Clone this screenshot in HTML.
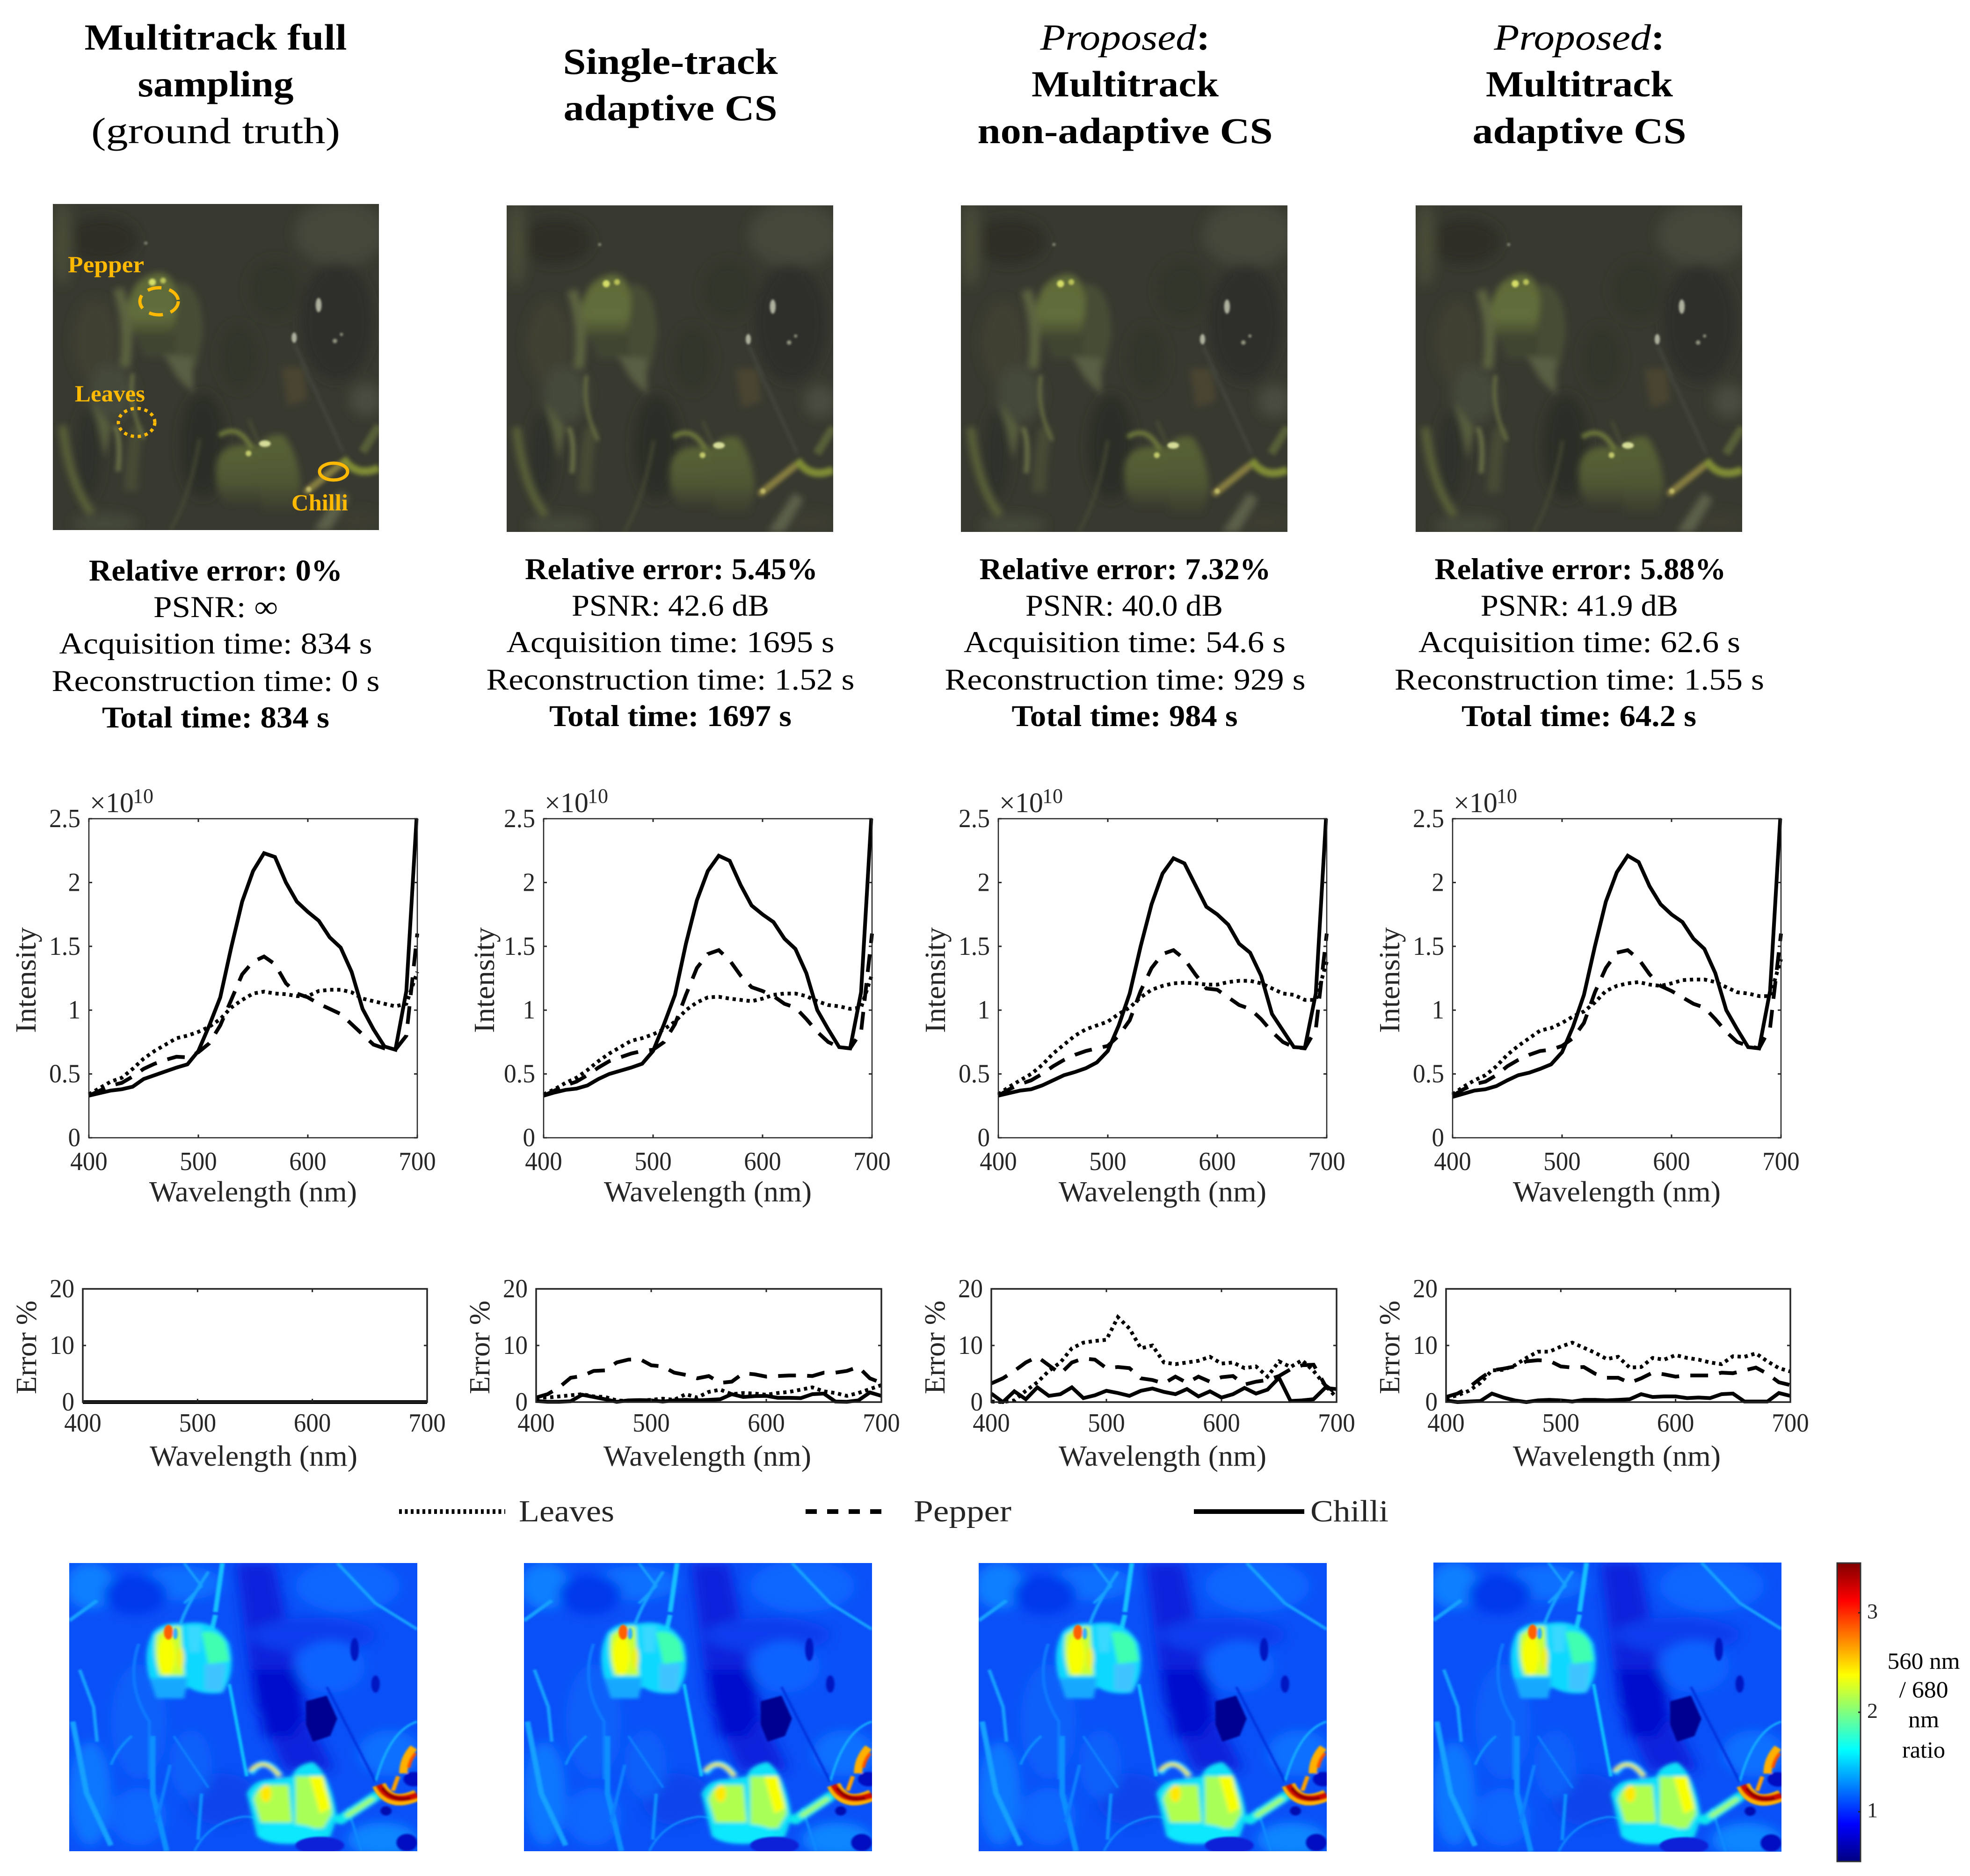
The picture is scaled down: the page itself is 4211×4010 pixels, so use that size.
<!DOCTYPE html>
<html lang="en">
<head>
<meta charset="utf-8">
<title>Multitrack compressive sensing comparison</title>
<style>
html,body{margin:0;padding:0;background:#fff;}
svg{display:block;}
text{font-family:"Liberation Serif","DejaVu Serif",serif;}
.title{font-size:78px;font-weight:bold;fill:#000;text-anchor:middle;}
.title-light{font-size:78px;fill:#000;text-anchor:middle;}
.stat{font-size:65px;fill:#000;text-anchor:middle;}
.stat-b{font-size:65px;font-weight:bold;fill:#000;text-anchor:middle;}
.anno{font-size:50px;font-weight:bold;fill:#ffb900;}
.leg{font-size:66px;fill:#262626;}
.cb{font-size:46px;fill:#262626;}
.cbl{font-size:50px;fill:#000;text-anchor:middle;}
</style>
</head>
<body>
<svg id="figure" xmlns="http://www.w3.org/2000/svg" width="4211" height="4010" viewBox="0 0 4211 4010">
<defs>
<filter id="b1" x="-20%" y="-20%" width="140%" height="140%"><feGaussianBlur stdDeviation="1.8"/></filter>
<filter id="b4" x="-20%" y="-20%" width="140%" height="140%"><feGaussianBlur stdDeviation="1.0"/></filter>
<filter id="b2" x="-20%" y="-20%" width="140%" height="140%"><feGaussianBlur stdDeviation="0.6"/></filter>
<filter id="b3" x="-20%" y="-20%" width="140%" height="140%"><feGaussianBlur stdDeviation="0.3"/></filter>
<linearGradient id="jet" x1="0" y1="1" x2="0" y2="0">
<stop offset="0" stop-color="#000080"/><stop offset="0.125" stop-color="#0000ff"/><stop offset="0.375" stop-color="#00ffff"/><stop offset="0.625" stop-color="#ffff00"/><stop offset="0.875" stop-color="#ff0000"/><stop offset="1" stop-color="#800000"/>
</linearGradient>
<linearGradient id="pepperUpper" x1="0" y1="0" x2="0" y2="1">
<stop offset="0" stop-color="#5e6a38"/><stop offset="0.65" stop-color="#626e3b"/><stop offset="1" stop-color="#3f4530"/>
</linearGradient>
<linearGradient id="pepperLower" x1="0" y1="0" x2="0" y2="1">
<stop offset="0" stop-color="#586336"/><stop offset="0.6" stop-color="#4f5733"/><stop offset="1" stop-color="#3b3d2e"/>
</linearGradient>
<g id="photo-scene">
<rect width="100" height="100" fill="#383930"/>
<g filter="url(#b1)">
<ellipse cx="15" cy="11" rx="11" ry="7" fill="#2e2f28"/>
<ellipse cx="88" cy="9" rx="14" ry="10" fill="#45463a"/>
<ellipse cx="87" cy="36" rx="11" ry="18" fill="#2e2f29"/>
<ellipse cx="46" cy="74" rx="7" ry="16" fill="#2c2d26"/>
<ellipse cx="11" cy="76" rx="4" ry="14" fill="#2f3029"/>
<ellipse cx="3" cy="12" rx="3" ry="13" fill="#484b37"/>
<ellipse cx="13" cy="42" rx="7" ry="13" fill="#3f4132"/>
<ellipse cx="18" cy="58" rx="7" ry="9" fill="#45483a"/>
<ellipse cx="96" cy="60" rx="5" ry="5" fill="#4a4c40"/>
<ellipse cx="57" cy="47" rx="6" ry="10" fill="#33342b"/>
<ellipse cx="68" cy="26" rx="8" ry="9" fill="#33342c"/>
<ellipse cx="16" cy="98" rx="10" ry="3" fill="#45483a"/>
<ellipse cx="93" cy="97" rx="8" ry="3" fill="#3e3e33"/>
</g>
<g filter="url(#b4)">
<path d="M38 24 Q46 24 46 40 L44 50 L37 48 Z" fill="#474e34"/>
<path d="M23 32 Q24 22 33 21 Q38 22 38 30 L37 40 L26 41 Q22 38 23 32 Z" fill="url(#pepperUpper)"/>
<path d="M25 40 L38 40 L36 47 L28 47 Z" fill="#3f4431"/>
<path d="M20 26 Q24 38 22 50" stroke="#5c633f" stroke-width="3.2" fill="none"/>
<polygon points="34,46 43,47 43,58 38,53" fill="#585f42"/>
<path d="M12 60 L18 68 L16 78 Z" fill="#565d3e"/>
<path d="M3 68 Q5 86 12 95" stroke="#596039" stroke-width="2.6" fill="none"/>
<path d="M26 68 Q24 78 24 88" stroke="#474c35" stroke-width="4" fill="none"/>
<path d="M50 82 Q50 74 58 74 L64 74 L64 92 L54 92 Q50 90 50 82 Z" fill="url(#pepperLower)"/>
<path d="M63 74 Q66 70 71 71 Q76 78 76 88 L74 94 L64 94 Z" fill="url(#pepperLower)"/>
<path d="M88 88 L80 100 L85 100 L91 90 Z" fill="#5c6149"/>
<path d="M70 50 L77 50 L78 60 L72 62 Z" fill="#4a4431"/>
</g>
<g filter="url(#b2)">
<path d="M24.5 52 Q23 62 28 72" stroke="#687042" stroke-width="1" fill="none"/>
<path d="M19 68 Q21 72 20 82" stroke="#666e45" stroke-width="1.5" fill="none"/>
<path d="M51 71 Q57 67 61 75" stroke="#6c773b" stroke-width="1.5" fill="none"/>
<path d="M60 66 L63 73" stroke="#4c5034" stroke-width="0.8" fill="none"/>
<path d="M78 88 L88 80" stroke="#857d40" stroke-width="2.2" stroke-linecap="round" fill="none"/>
<path d="M89 78 Q93 84 100 81" stroke="#7f8b36" stroke-width="2.4" fill="none"/>
<path d="M95 76 L100 68" stroke="#575e39" stroke-width="2.6" fill="none"/>
<path d="M74 43 L89 76" stroke="#4a4f49" stroke-width="0.6" fill="none"/>
<path d="M45 72 Q42 90 36 100" stroke="#484c36" stroke-width="0.8" fill="none"/>
</g>
<g filter="url(#b3)">
<circle cx="30.5" cy="24" r="1.1" fill="#d5dd68"/>
<circle cx="33.8" cy="23.5" r="0.9" fill="#b9c058"/>
<ellipse cx="65" cy="73.5" rx="1.8" ry="1" fill="#d6dd98"/>
<circle cx="60" cy="76.5" r="0.9" fill="#c1c86a"/>
<ellipse cx="81.5" cy="31" rx="0.9" ry="2.2" fill="#aeb09e"/>
<ellipse cx="74" cy="41" rx="0.8" ry="1.6" fill="#aeb09e"/>
<circle cx="86.5" cy="42" r="0.7" fill="#92947f"/>
<circle cx="88.5" cy="40" r="0.5" fill="#92947f"/>
<circle cx="28.5" cy="12" r="0.5" fill="#858776"/>
<circle cx="78.5" cy="87.5" r="0.8" fill="#bdb565"/>
</g>
</g>
<g id="heat-scene">
<rect width="100" height="100" fill="#0a50f8"/>
<g filter="url(#b1)">
<ellipse cx="6" cy="8" rx="7" ry="8" fill="#0a80ff"/>
<ellipse cx="32" cy="7" rx="12" ry="6" fill="#0a70ff"/>
<ellipse cx="19" cy="11" rx="9" ry="7" fill="#0038ec"/>
<polygon points="48,0 59,0 64,30 68,52 76,72 62,72 53,48" fill="#0a20dc"/>
<polygon points="53,37 66,37 68,52 64,60 56,60" fill="#0010cc"/>
<ellipse cx="80" cy="8" rx="15" ry="9" fill="#0a68ff"/>
<ellipse cx="70" cy="25" rx="18" ry="6" fill="#0a3cee"/>
<ellipse cx="75" cy="36" rx="10" ry="9" fill="#0a64ff"/>
<ellipse cx="20" cy="55" rx="8" ry="20" fill="#0a60fa"/>
<ellipse cx="44" cy="82" rx="10" ry="9" fill="#0a44ea"/>
<ellipse cx="6" cy="80" rx="6" ry="18" fill="#0a78ff"/>
<ellipse cx="20" cy="88" rx="8" ry="10" fill="#0a68ff"/>
<ellipse cx="92" cy="66" rx="9" ry="8" fill="#0a70ff"/>
<ellipse cx="90" cy="96" rx="10" ry="6" fill="#0a86ff"/>
<ellipse cx="35" cy="70" rx="6" ry="12" fill="#0a60fa"/>
</g>
<g filter="url(#b3)" fill="none" stroke="#14a0ff">
<path d="M44 0 L42 17" stroke="#18c0ff" stroke-width="1.4"/>
<path d="M42 18 L41 23" stroke="#18c0ff" stroke-width="1.4"/>
<path d="M40 3 Q34 14 32 21" stroke-width="1"/>
<path d="M33 0 L38 8 L33 14" stroke-width="0.8"/>
<path d="M0 20 L8 13" stroke-width="1.2"/>
<path d="M46 42 L51 74" stroke="#10c0ff" stroke-width="1"/>
<path d="M77 0 L88 14 L100 23" stroke-width="1"/>
<path d="M3 37 L7 50 L8 62" stroke-width="1"/>
<path d="M1 55 L5 80 L12 98" stroke-width="1.6"/>
<path d="M20 28 Q16 42 23 55 L23 75" stroke="#0c78ff" stroke-width="1"/>
<path d="M24 60 L24 80 L28 100" stroke="#0c90ff" stroke-width="1.6"/>
<path d="M29 70 L25 90" stroke="#0c80ff" stroke-width="1"/>
<path d="M30 60 L40 78" stroke="#0c80ff" stroke-width="0.7"/>
<path d="M18 60 Q14 64 12 70" stroke="#0c90ff" stroke-width="0.8"/>
<path d="M36 100 Q40 90 50 88 Q54 88 56 90" stroke="#0c88ff" stroke-width="0.7"/>
<path d="M38 80 L37 96" stroke="#0c90ff" stroke-width="1"/>
<path d="M100 55 Q92 58 88 76" stroke="#14b0ff" stroke-width="0.7"/>
<path d="M80 85 L84 100" stroke="#0c88ff" stroke-width="0.8"/>
<path d="M74 43 L88 76" stroke="#0030dc" stroke-width="0.7"/>
</g>
<g filter="url(#b2)">
<path d="M24 24 Q27 20 33 21 Q42 19 46 28 Q48 38 44 45 Q38 46 34 43 L32 47 Q26 47 23 40 Q21 31 24 24 Z" fill="#10d8ff"/>
<path d="M23 40 L34 40 L33 47 L25 47 Z" fill="#18a8ff"/>
<path d="M39 35 L45 35 L44 44.5 L39 44 Z" fill="#40c4ff"/>
<path d="M25 25 Q28 22 32 22 L33 39 L26 39 Q24 32 25 25 Z" fill="#c8ff30"/>
<path d="M38 24 Q43 23 45 28 L46 34 L40 35 Z" fill="#40ffb0"/>
<path d="M34 22 L38 22 L37.5 31 L34.5 31 Z" fill="#38d8ff"/>
<ellipse cx="28" cy="32" rx="2.4" ry="7" fill="#f8ff00"/>
<ellipse cx="32" cy="33" rx="1" ry="4" fill="#f0f010"/>
<path d="M51 80 Q53 75 58 75 L64 74 Q65 70 70 69 Q75 73 77 88 L75 95 Q70 97 65 96 L54 95 Z" fill="#10e0f8"/>
<path d="M53 82 Q54 77 58 77 L63 77 L64 90 L55 90 Z" fill="#b0ff50"/>
<path d="M65 74 L72 74 Q75 80 75.5 87 L73 92 L65 92 Z" fill="#a8ff58"/>
<path d="M69 74 L73 74 L75 85 L72 87 Z" fill="#f8ff00"/>
<ellipse cx="56.5" cy="80" rx="1.6" ry="3" fill="#ffe800"/>
<ellipse cx="63" cy="94" rx="9" ry="3.5" fill="#10e8ff"/>
<path d="M52 73 Q56 66 60.5 74" stroke="#10e0ff" stroke-width="2.2" fill="none"/>
<path d="M52 72 Q56 67 60.5 74" stroke="#f0e020" stroke-width="1.1" fill="none"/>
<path d="M78 89 L88 81" stroke="#10e8f0" stroke-width="3.4" stroke-linecap="round" fill="none"/>
<path d="M80 87.5 L87 82" stroke="#a0ff60" stroke-width="1.5" stroke-linecap="round" fill="none"/>
</g>
<g filter="url(#b3)">
<ellipse cx="28.5" cy="24" rx="1.3" ry="2.6" fill="#ff6000"/>
<ellipse cx="30.5" cy="24.5" rx="0.7" ry="2" fill="#30b0ff"/>
<path d="M89 77 Q92 85 100 80.5" stroke="#ffb000" stroke-width="4" fill="none"/>
<path d="M89 77 Q92 84 100 80.5" stroke="#d01000" stroke-width="2.2" fill="none"/>
<path d="M90 78 Q93 83 98 81.5" stroke="#900000" stroke-width="1" fill="none"/>
<path d="M99 64 Q96 68 96 73" stroke="#ffb000" stroke-width="2.4" fill="none"/>
<path d="M99.5 66 Q98 68 97.5 71" stroke="#ff5000" stroke-width="1" fill="none"/>
<path d="M94.5 74 L93 79" stroke="#ffa000" stroke-width="1.2" fill="none"/>
<ellipse cx="99" cy="75" rx="3" ry="2.5" fill="#0010c0"/>
<path d="M68 48 L74 46 L77 54 L75 60 L70 62 L68 56 Z" fill="#000090"/>
<ellipse cx="97" cy="97" rx="3" ry="3" fill="#0010c0"/>
<ellipse cx="91" cy="86" rx="1.6" ry="1.6" fill="#0010b0"/>
<ellipse cx="82" cy="30" rx="1.2" ry="4" fill="#0018c0"/>
<ellipse cx="88" cy="42" rx="1.2" ry="3" fill="#0018c0"/>
<ellipse cx="72" cy="98" rx="7" ry="3" fill="#0a20d8"/>
</g>
</g>
</defs>

<rect width="4211" height="4010" fill="#fff"/>

<!-- Column titles -->
<g>
<text class="title" x="461" y="106" textLength="561" lengthAdjust="spacingAndGlyphs">Multitrack full</text>
<text class="title" x="461" y="206" textLength="333" lengthAdjust="spacingAndGlyphs">sampling</text>
<text class="title-light" x="461" y="306" textLength="532" lengthAdjust="spacingAndGlyphs">(ground truth)</text>
<text class="title" x="1433" y="158" textLength="459" lengthAdjust="spacingAndGlyphs">Single-track</text>
<text class="title" x="1433" y="257" textLength="457" lengthAdjust="spacingAndGlyphs">adaptive CS</text>
<text class="title" x="2405" y="106" textLength="363" lengthAdjust="spacingAndGlyphs"><tspan font-style="italic" font-weight="normal">Proposed</tspan>:</text>
<text class="title" x="2405" y="206" textLength="400" lengthAdjust="spacingAndGlyphs">Multitrack</text>
<text class="title" x="2405" y="306" textLength="631" lengthAdjust="spacingAndGlyphs">non-adaptive CS</text>
<text class="title" x="3376" y="106" textLength="365" lengthAdjust="spacingAndGlyphs"><tspan font-style="italic" font-weight="normal">Proposed</tspan>:</text>
<text class="title" x="3376" y="206" textLength="400" lengthAdjust="spacingAndGlyphs">Multitrack</text>
<text class="title" x="3376" y="306" textLength="457" lengthAdjust="spacingAndGlyphs">adaptive CS</text>
</g>

<!-- Reconstructed RGB photos -->
<svg x="113" y="436" width="697" height="697" viewBox="0 0 100 100" preserveAspectRatio="none"><use href="#photo-scene"/></svg>
<svg x="1083" y="439" width="698" height="698" viewBox="0 0 100 100" preserveAspectRatio="none"><use href="#photo-scene"/></svg>
<svg x="2054" y="439" width="698" height="698" viewBox="0 0 100 100" preserveAspectRatio="none"><use href="#photo-scene"/></svg>
<svg x="3026" y="439" width="698" height="698" viewBox="0 0 100 100" preserveAspectRatio="none"><use href="#photo-scene"/></svg>

<!-- Photo annotations -->
<g>
<text class="anno" x="145" y="582" textLength="163" lengthAdjust="spacingAndGlyphs">Pepper</text>
<ellipse cx="340" cy="644" rx="41" ry="29" fill="none" stroke="#ffb900" stroke-width="7" stroke-dasharray="30 17"/>
<text class="anno" x="160" y="858" textLength="150" lengthAdjust="spacingAndGlyphs">Leaves</text>
<ellipse cx="292" cy="903" rx="39" ry="30" fill="none" stroke="#ffb900" stroke-width="7" stroke-dasharray="7 8"/>
<ellipse cx="713" cy="1008" rx="30" ry="18" fill="none" stroke="#ffb900" stroke-width="7"/>
<text class="anno" x="623" y="1091" textLength="121" lengthAdjust="spacingAndGlyphs">Chilli</text>
</g>

<!-- Metrics -->
<g>
<text class="stat-b" x="461" y="1241" textLength="542" lengthAdjust="spacingAndGlyphs">Relative error: 0%</text>
<text class="stat" x="461" y="1319" textLength="266" lengthAdjust="spacingAndGlyphs">PSNR: ∞</text>
<text class="stat" x="461" y="1397" textLength="669" lengthAdjust="spacingAndGlyphs">Acquisition time: 834 s</text>
<text class="stat" x="461" y="1477" textLength="701" lengthAdjust="spacingAndGlyphs">Reconstruction time: 0 s</text>
<text class="stat-b" x="461" y="1555" textLength="486" lengthAdjust="spacingAndGlyphs">Total time: 834 s</text>
</g>
<g>
<text class="stat-b" x="1435" y="1238" textLength="626" lengthAdjust="spacingAndGlyphs">Relative error: 5.45%</text>
<text class="stat" x="1433" y="1316" textLength="422" lengthAdjust="spacingAndGlyphs">PSNR: 42.6 dB</text>
<text class="stat" x="1433" y="1394" textLength="701" lengthAdjust="spacingAndGlyphs">Acquisition time: 1695 s</text>
<text class="stat" x="1433" y="1474" textLength="787" lengthAdjust="spacingAndGlyphs">Reconstruction time: 1.52 s</text>
<text class="stat-b" x="1433" y="1552" textLength="518" lengthAdjust="spacingAndGlyphs">Total time: 1697 s</text>
</g>
<g>
<text class="stat-b" x="2405" y="1238" textLength="623" lengthAdjust="spacingAndGlyphs">Relative error: 7.32%</text>
<text class="stat" x="2403" y="1316" textLength="422" lengthAdjust="spacingAndGlyphs">PSNR: 40.0 dB</text>
<text class="stat" x="2404" y="1394" textLength="688" lengthAdjust="spacingAndGlyphs">Acquisition time: 54.6 s</text>
<text class="stat" x="2405" y="1474" textLength="771" lengthAdjust="spacingAndGlyphs">Reconstruction time: 929 s</text>
<text class="stat-b" x="2404" y="1552" textLength="483" lengthAdjust="spacingAndGlyphs">Total time: 984 s</text>
</g>
<g>
<text class="stat-b" x="3378" y="1238" textLength="623" lengthAdjust="spacingAndGlyphs">Relative error: 5.88%</text>
<text class="stat" x="3376" y="1316" textLength="422" lengthAdjust="spacingAndGlyphs">PSNR: 41.9 dB</text>
<text class="stat" x="3376" y="1394" textLength="688" lengthAdjust="spacingAndGlyphs">Acquisition time: 62.6 s</text>
<text class="stat" x="3376" y="1474" textLength="790" lengthAdjust="spacingAndGlyphs">Reconstruction time: 1.55 s</text>
<text class="stat-b" x="3375" y="1552" textLength="502" lengthAdjust="spacingAndGlyphs">Total time: 64.2 s</text>
</g>

<g id="charts"></g>

<!-- Legend -->
<g>
<g>
<line x1="853" y1="3231" x2="1080" y2="3231" stroke="#000" stroke-width="10" stroke-dasharray="6 6.5"/>
<text class="leg" x="1109" y="3252" textLength="204" lengthAdjust="spacingAndGlyphs">Leaves</text>
</g>
<g>
<line x1="1722" y1="3231" x2="1890" y2="3231" stroke="#000" stroke-width="10" stroke-dasharray="24 22"/>
<text class="leg" x="1953" y="3252" textLength="209" lengthAdjust="spacingAndGlyphs">Pepper</text>
</g>
<g>
<line x1="2552" y1="3231" x2="2788" y2="3231" stroke="#000" stroke-width="10"/>
<text class="leg" x="2801" y="3252" textLength="167" lengthAdjust="spacingAndGlyphs">Chilli</text>
</g>
</g>

<!-- Ratio heatmaps -->
<svg x="148" y="3341" width="744" height="616" viewBox="0 0 100 100" preserveAspectRatio="none"><use href="#heat-scene"/></svg>
<svg x="1120" y="3341" width="744" height="616" viewBox="0 0 100 100" preserveAspectRatio="none"><use href="#heat-scene"/></svg>
<svg x="2092" y="3341" width="744" height="616" viewBox="0 0 100 100" preserveAspectRatio="none"><use href="#heat-scene"/></svg>
<svg x="3064" y="3340" width="744" height="618" viewBox="0 0 100 100" preserveAspectRatio="none"><use href="#heat-scene"/></svg>

<g id="colorbar"></g>
<g>
<text class="cbl" x="4112" y="3567" textLength="155" lengthAdjust="spacingAndGlyphs">560 nm</text>
<text class="cbl" x="4112" y="3628" textLength="105" lengthAdjust="spacingAndGlyphs">/ 680</text>
<text class="cbl" x="4112" y="3692" textLength="66" lengthAdjust="spacingAndGlyphs">nm</text>
<text class="cbl" x="4112" y="3757" textLength="92" lengthAdjust="spacingAndGlyphs">ratio</text>
</g>
</svg>

<script>
// ---------- chart data ----------
const wavelengths = [400,410,420,430,440,450,460,470,480,490,500,510,520,530,540,550,560,570,580,590,600,610,620,630,640,650,660,670,680,690,700];
const xTickLabels = [400,500,600,700];
const intensityTickLabels = ['0','0.5','1','1.5','2','2.5'];
const intensityTickValues = [0,0.5,1,1.5,2,2.5];
const errorTickLabels = ['0','10','20'];
const errorTickValues = [0,10,20];
const colorbarTickLabels = ['1','2','3'];
const colorbarTickValues = [1,2,3];
const colorbarRange = [0.5,3.5];

// Intensity, units of 1e10
const leavesIntensityGroundTruth = [.34,.39,.44,.47,.54,.62,.68,.73,.78,.80,.83,.87,.93,1.02,1.08,1.13,1.145,1.13,1.125,1.11,1.11,1.15,1.16,1.16,1.14,1.09,1.07,1.05,1.03,1.05,1.30];
const pepperIntensityGroundTruth = [.33,.37,.41,.43,.48,.54,.58,.61,.635,.63,.67,.74,.88,1.08,1.28,1.38,1.42,1.36,1.21,1.13,1.10,1.05,1.01,.97,.89,.81,.73,.70,.69,.80,1.6];
const chilliIntensityGroundTruth = [.33,.35,.37,.38,.40,.46,.49,.52,.55,.575,.68,.88,1.10,1.49,1.85,2.09,2.23,2.20,2.0,1.85,1.77,1.70,1.57,1.49,1.30,1.01,.85,.715,.69,1.15,2.6];

const leavesIntensitySingleTrack = [.34,.38,.43,.47,.53,.60,.66,.71,.76,.78,.81,.85,.91,1.0,1.06,1.10,1.105,1.09,1.08,1.07,1.09,1.12,1.13,1.13,1.11,1.07,1.04,1.03,1.01,1.02,1.28];
const pepperIntensitySingleTrack = [.33,.37,.41,.44,.49,.55,.60,.63,.66,.68,.69,.75,.89,1.12,1.33,1.44,1.47,1.39,1.27,1.18,1.15,1.11,1.05,1.02,.93,.83,.75,.71,.70,.83,1.6];
const chilliIntensitySingleTrack = [.33,.355,.375,.385,.41,.46,.50,.525,.55,.58,.68,.89,1.12,1.52,1.86,2.09,2.21,2.17,1.98,1.82,1.75,1.69,1.56,1.48,1.29,1.00,.85,.71,.70,1.14,2.6];

const leavesIntensityNonAdaptive = [.34,.40,.45,.50,.57,.66,.73,.80,.85,.88,.91,.97,1.02,1.10,1.16,1.19,1.21,1.215,1.21,1.20,1.20,1.22,1.23,1.23,1.21,1.17,1.13,1.12,1.08,1.08,1.38];
const pepperIntensityNonAdaptive = [.33,.38,.42,.45,.50,.56,.61,.65,.68,.70,.72,.80,.92,1.15,1.33,1.44,1.47,1.40,1.28,1.17,1.16,1.10,1.04,1.01,.93,.83,.75,.71,.70,.85,1.6];
const chilliIntensityNonAdaptive = [.33,.35,.37,.38,.41,.45,.49,.515,.545,.59,.68,.88,1.13,1.50,1.83,2.07,2.19,2.15,1.98,1.81,1.75,1.67,1.52,1.45,1.27,.97,.84,.71,.705,1.13,2.6];

const leavesIntensityAdaptive = [.34,.40,.45,.49,.56,.65,.72,.78,.84,.86,.90,.95,.99,1.06,1.15,1.19,1.21,1.22,1.20,1.19,1.21,1.235,1.24,1.24,1.22,1.18,1.14,1.13,1.11,1.11,1.40];
const pepperIntensityAdaptive = [.33,.38,.42,.44,.49,.56,.61,.65,.68,.69,.72,.78,.90,1.14,1.33,1.45,1.47,1.40,1.28,1.19,1.15,1.10,1.05,1.02,.93,.83,.75,.72,.70,.86,1.6];
const chilliIntensityAdaptive = [.32,.345,.37,.38,.405,.45,.49,.51,.54,.575,.67,.87,1.12,1.5,1.85,2.08,2.21,2.16,1.97,1.83,1.75,1.69,1.56,1.48,1.29,1.00,.85,.71,.70,1.15,2.6];

// Error, percent
const leavesErrorGroundTruth = [0,0,0,0,0,0,0,0,0,0,0,0,0,0,0,0,0,0,0,0,0,0,0,0,0,0,0,0,0,0,0];
const pepperErrorGroundTruth = [0,0,0,0,0,0,0,0,0,0,0,0,0,0,0,0,0,0,0,0,0,0,0,0,0,0,0,0,0,0,0];
const chilliErrorGroundTruth = [0,0,0,0,0,0,0,0,0,0,0,0,0,0,0,0,0,0,0,0,0,0,0,0,0,0,0,0,0,0,0];

const leavesErrorSingleTrack = [.8,.8,1.0,1.2,1.4,1.0,.9,.3,.2,.3,.4,.6,.4,1.4,.8,1.8,2.2,1.4,1.6,1.5,1.3,1.6,1.8,2.2,2.6,1.9,1.6,1.1,1.6,2.3,3.0];
const pepperErrorSingleTrack = [.8,1.4,2.6,4.3,4.6,5.5,5.6,7,7.5,7.6,6.5,6.3,5.2,4.8,4.2,4.6,3.4,3.6,5.1,4.9,4.5,4.6,4.7,4.7,4.6,5.2,5.2,5.5,6.2,4.2,3.4];
const chilliErrorSingleTrack = [.2,.05,.05,.15,1.3,.9,.5,.05,.3,.35,.3,.1,.3,.4,.3,.4,.5,1.4,.9,1.05,1.1,.75,.75,.7,1.4,1.5,.1,.05,.3,1.7,1.1];

const leavesErrorNonAdaptive = [.1,0,.3,2,3.5,5.5,7,9.5,10.5,10.8,11,15,13,9.5,10,7,6.7,7,7.3,8,6.8,7,6,6.3,4.5,7.2,6.2,7.4,5.5,3,.8];
const pepperErrorNonAdaptive = [3.3,4.2,5.5,7,8,6.5,5,7,7.7,7.5,6,6.2,6,4.2,3.9,3.3,4.5,3.4,4.5,3.6,4.4,4.6,3.1,3.6,3.9,4.6,5.8,6.5,6.6,3.0,1.5];
const chilliErrorNonAdaptive = [1.5,0,1.9,.5,2.6,1.1,1.4,2.6,.7,1.2,2.0,1.6,1.1,2.0,2.4,1.8,1.4,2.3,1.0,1.9,.8,1.4,2.5,1.5,2.2,4.3,.2,.3,.5,2.5,2.3];

const leavesErrorAdaptive = [.7,1.2,2,3.4,5.6,5.7,6.5,7.8,8.9,8.9,9.8,10.5,9.6,8.7,7.6,8,6.1,6.2,7.8,7.5,8.3,7.8,7.5,7,6.7,8.1,8,8.6,7.2,6,5.4];
const pepperErrorAdaptive = [.9,1.5,2.6,4.2,5.6,5.9,6.3,7.2,7.4,7.3,6.3,6.1,6.2,5,4.3,4.3,3.4,4.2,5.2,4.9,4.5,4.7,4.7,4.7,5.2,5.1,5.6,6.1,5,3.5,3];
const chilliErrorAdaptive = [.3,0,.1,.2,1.5,.8,.3,0,.3,.4,.3,.1,.4,.4,.3,.4,.5,1.4,.9,1,1,.7,.8,.7,1.4,1.5,.1,.1,.1,1.6,1.1];

// ---------- drawing ----------
const NS = 'http://www.w3.org/2000/svg';
const root = document.getElementById('charts');
const AXIS = '#262626';

function mk(tag, parent, attrs) {
  const el = document.createElementNS(NS, tag);
  for (const k in attrs) el.setAttribute(k, attrs[k]);
  parent.appendChild(el);
  return el;
}
function labelWidth(s) {
  let w = 0;
  for (const c of String(s)) w += c === '.' ? 14 : 26.5;
  return w;
}
const seriesStyles = {
  leaves: {dash: '7 8', width: 8},
  pepper: {dash: '38 24', width: 8},
  chilli: {dash: '', width: 8}
};
let clipCounter = 0;

function drawPanel(box, yMax, yValues, yLabels, series, opts) {
  const xScale = v => box.left + (v - 400) / 300 * (box.right - box.left);
  const yScale = v => box.bottom - v / yMax * (box.bottom - box.top);
  const panel = document.createElementNS(NS, 'g');
  
  
  root.appendChild(panel);

  const clipId = 'clip-' + (clipCounter++);
  const defs = mk('defs', panel, {});
  const cp = mk('clipPath', defs, {id: clipId});
  mk('rect', cp, {x: box.left - 2, y: box.top, width: box.right - box.left + 6, height: box.bottom - box.top + 4});

  for (const key of ['leaves', 'pepper', 'chilli']) {
    const d = wavelengths.map((w, i) => (i ? 'L' : 'M') + xScale(w).toFixed(1) + ' ' + yScale(series[key][i]).toFixed(1)).join(' ');
    const st = seriesStyles[key];
    const path = document.createElementNS(NS, 'path');
    
    
    path.setAttribute('d', d);
    path.setAttribute('fill', 'none');
    path.setAttribute('stroke', '#000');
    path.setAttribute('stroke-width', st.width);
    path.setAttribute('stroke-linejoin', 'miter');
    if (st.dash) path.setAttribute('stroke-dasharray', st.dash);
    path.setAttribute('clip-path', 'url(#' + clipId + ')');
    panel.appendChild(path);
  }

  const frame = document.createElementNS(NS, 'rect');
  
  
  frame.setAttribute('x', box.left);
  frame.setAttribute('y', box.top);
  frame.setAttribute('width', box.right - box.left);
  frame.setAttribute('height', box.bottom - box.top);
  frame.setAttribute('fill', 'none');
  frame.setAttribute('stroke', AXIS);
  frame.setAttribute('stroke-width', opts.frameWidth);
  panel.appendChild(frame);

  xTickLabels.forEach(v => {
    const x = xScale(v);
    mk('line', panel, {x1: x, y1: box.bottom, x2: x, y2: box.bottom - 7, stroke: AXIS, 'stroke-width': 3});
    mk('line', panel, {x1: x, y1: box.top, x2: x, y2: box.top + 7, stroke: AXIS, 'stroke-width': 3});
    const t = document.createElementNS(NS, 'text');
    
    
    t.setAttribute('x', x);
    t.setAttribute('y', opts.xTickY);
    t.setAttribute('text-anchor', 'middle');
    t.setAttribute('font-size', 56);
    t.setAttribute('fill', AXIS);
    t.setAttribute('textLength', labelWidth(v));
    t.setAttribute('lengthAdjust', 'spacingAndGlyphs');
    t.textContent = v;
    panel.appendChild(t);
  });

  yValues.forEach((v, i) => {
    const y = yScale(v);
    mk('line', panel, {x1: box.left, y1: y, x2: box.left + 7, y2: y, stroke: AXIS, 'stroke-width': 3});
    mk('line', panel, {x1: box.right, y1: y, x2: box.right - 7, y2: y, stroke: AXIS, 'stroke-width': 3});
    const t = document.createElementNS(NS, 'text');
    
    
    t.setAttribute('x', box.left - 18);
    t.setAttribute('y', y + 18);
    t.setAttribute('text-anchor', 'end');
    t.setAttribute('font-size', 56);
    t.setAttribute('fill', AXIS);
    t.setAttribute('textLength', labelWidth(yLabels[i]));
    t.setAttribute('lengthAdjust', 'spacingAndGlyphs');
    t.textContent = yLabels[i];
    panel.appendChild(t);
  });

  const xt = document.createElementNS(NS, 'text');
  
  
  xt.setAttribute('x', (box.left + box.right) / 2 + opts.xTitleShift);
  xt.setAttribute('y', opts.xTitleY);
  xt.setAttribute('text-anchor', 'middle');
  xt.setAttribute('font-size', 62);
  xt.setAttribute('fill', AXIS);
  xt.setAttribute('textLength', 444);
  xt.setAttribute('lengthAdjust', 'spacingAndGlyphs');
  xt.textContent = 'Wavelength (nm)';
  panel.appendChild(xt);

  const yt = document.createElementNS(NS, 'text');
  
  
  yt.setAttribute('transform', 'translate(' + (box.left + opts.yTitleDx) + ' ' + opts.yTitleCy + ') rotate(-90)');
  yt.setAttribute('text-anchor', 'middle');
  yt.setAttribute('font-size', 62);
  yt.setAttribute('fill', AXIS);
  yt.setAttribute('textLength', opts.yTitleLen);
  yt.setAttribute('lengthAdjust', 'spacingAndGlyphs');
  yt.textContent = opts.yTitle;
  panel.appendChild(yt);

  if (opts.exponent) {
    const ex = document.createElementNS(NS, 'text');
    
    
    ex.setAttribute('x', box.left + 2);
    ex.setAttribute('y', box.top - 14);
    ex.setAttribute('font-size', 60);
    ex.setAttribute('fill', AXIS);
    ex.textContent = '×10';
    panel.appendChild(ex);
    const sup = document.createElementNS(NS, 'text');
    
    
    sup.setAttribute('x', box.left + 94);
    sup.setAttribute('y', box.top - 34);
    sup.setAttribute('font-size', 44);
    sup.setAttribute('fill', AXIS);
    sup.textContent = '10';
    panel.appendChild(sup);
  }
}

const intensityPanels = [
  {left: 190, dx: -114, name: 'intensity-chart-ground-truth', s: {leaves: leavesIntensityGroundTruth, pepper: pepperIntensityGroundTruth, chilli: chilliIntensityGroundTruth}},
  {left: 1162, dx: -106, name: 'intensity-chart-single-track', s: {leaves: leavesIntensitySingleTrack, pepper: pepperIntensitySingleTrack, chilli: chilliIntensitySingleTrack}},
  {left: 2134, dx: -114, name: 'intensity-chart-non-adaptive', s: {leaves: leavesIntensityNonAdaptive, pepper: pepperIntensityNonAdaptive, chilli: chilliIntensityNonAdaptive}},
  {left: 3105, dx: -114, name: 'intensity-chart-adaptive', s: {leaves: leavesIntensityAdaptive, pepper: pepperIntensityAdaptive, chilli: chilliIntensityAdaptive}}
];
intensityPanels.forEach(p => {
  drawPanel({left: p.left, right: p.left + 702, top: 1750, bottom: 2432}, 2.5, intensityTickValues, intensityTickLabels, p.s, {
    name: p.name, frameWidth: 2.5, xTickY: 2501, xTitleY: 2568, xTitleShift: 0,
    yTitle: 'Intensity', yTitleDx: p.dx, yTitleCy: 2095, yTitleLen: 226, exponent: true
  });
});

const errorPanels = [
  {left: 177, right: 913, name: 'error-chart-ground-truth', s: {leaves: leavesErrorGroundTruth, pepper: pepperErrorGroundTruth, chilli: chilliErrorGroundTruth}},
  {left: 1146, right: 1884, name: 'error-chart-single-track', s: {leaves: leavesErrorSingleTrack, pepper: pepperErrorSingleTrack, chilli: chilliErrorSingleTrack}},
  {left: 2119, right: 2857, name: 'error-chart-non-adaptive', s: {leaves: leavesErrorNonAdaptive, pepper: pepperErrorNonAdaptive, chilli: chilliErrorNonAdaptive}},
  {left: 3091, right: 3827, name: 'error-chart-adaptive', s: {leaves: leavesErrorAdaptive, pepper: pepperErrorAdaptive, chilli: chilliErrorAdaptive}}
];
errorPanels.forEach(p => {
  drawPanel({left: p.left, right: p.right, top: 2755, bottom: 2997}, 20, errorTickValues, errorTickLabels, p.s, {
    name: p.name, frameWidth: 3.5, xTickY: 3060, xTitleY: 3133, xTitleShift: -3,
    yTitle: 'Error %', yTitleDx: -100, yTitleCy: 2880, yTitleLen: 200, exponent: false
  });
});

// colorbar
const cbGroup = document.getElementById('colorbar');
const cbBox = {left: 3927, right: 3977, top: 3341, bottom: 3979};
const cbY = v => cbBox.bottom - (v - colorbarRange[0]) / (colorbarRange[1] - colorbarRange[0]) * (cbBox.bottom - cbBox.top);
const cbRect = document.createElementNS(NS, 'rect');


cbRect.setAttribute('x', cbBox.left);
cbRect.setAttribute('y', cbBox.top);
cbRect.setAttribute('width', cbBox.right - cbBox.left);
cbRect.setAttribute('height', cbBox.bottom - cbBox.top);
cbRect.setAttribute('fill', 'url(#jet)');
cbRect.setAttribute('stroke', '#333');
cbRect.setAttribute('stroke-width', 3);
cbGroup.appendChild(cbRect);
colorbarTickValues.forEach((v, i) => {
  const y = cbY(v);
  mk('line', cbGroup, {x1: cbBox.right - 5, y1: y, x2: cbBox.right, y2: y, stroke: '#262626', 'stroke-width': 3});
  const t = document.createElementNS(NS, 'text');
  
  
  t.setAttribute('class', 'cb');
  t.setAttribute('x', cbBox.right + 14);
  t.setAttribute('y', y + 12);
  t.textContent = colorbarTickLabels[i];
  cbGroup.appendChild(t);
});
</script>
</body>
</html>
